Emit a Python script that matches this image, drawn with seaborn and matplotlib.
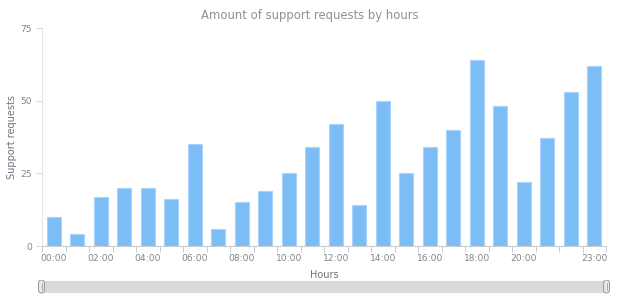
import matplotlib
matplotlib.use("Agg")
import matplotlib.pyplot as plt
import seaborn as sns
import numpy as np
import pandas as pd
from matplotlib.patches import FancyBboxPatch, Rectangle

hours = [f"{h:02d}:00" for h in range(24)]
requests = [10, 4, 17, 20, 20, 16, 35, 6, 15, 19, 25, 34, 42, 14, 50, 25, 34, 40, 64, 48, 22, 37, 53, 62]
tick_labels = ["00:00", "", "02:00", "", "04:00", "", "06:00", "", "08:00", "", "10:00", "",
               "12:00", "", "14:00", "", "16:00", "", "18:00", "", "20:00", "", "", "23:00"]
y_ticks = [0, 25, 50, 75]

sns.set_style("white")
plt.rcParams['font.family'] = ['DejaVu Sans']

text_col = "#7c868e"
df = pd.DataFrame({"hour": hours, "requests": requests})

fig = plt.figure(figsize=(6.2, 3.0), dpi=100)
ax = fig.add_axes([42/620, 1-246/300, (606-42)/620, (246-28)/300])
sns.barplot(data=df, x="hour", y="requests", color="#7dbdf6", width=0.6,
            edgecolor="#a9d3fa", linewidth=0.8, saturation=1, ax=ax)

ax.set_xlim(-0.5, 23.5)
ax.set_ylim(0, 75)
ax.set_yticks(y_ticks)
ax.set_yticklabels([str(v) for v in y_ticks])
ax.set_xticks(range(24))
ax.set_xticklabels(tick_labels)
ax.set_xticks(np.arange(-0.5, 24, 1), minor=True)
ax.tick_params(axis="x", which="major", bottom=False, length=0, pad=6, labelsize=6.6, labelcolor=text_col)
ax.tick_params(axis="x", which="minor", bottom=True, length=4, width=0.7, color="#c8cdd1", direction="out")
ax.tick_params(axis="y", left=True, length=4, width=0.7, color="#d5d9dc", labelsize=6.6, labelcolor=text_col, pad=3)
for s in ["top", "right"]:
    ax.spines[s].set_visible(False)
ax.spines["left"].set_color("#e3e6e8")
ax.spines["left"].set_linewidth(0.8)
ax.spines["bottom"].set_color("#c8cdd1")
ax.spines["bottom"].set_linewidth(0.8)

ax.set_xlabel("Hours", fontsize=7, color="#6b757d")
ax.xaxis.set_label_coords(0.5, -0.112)
ax.set_ylabel("Support requests", fontsize=7, color="#6b757d")
ax.yaxis.set_label_coords(-0.045, 0.5)
fig.text(0.5, 1-15/300, "Amount of support requests by hours", ha="center", va="center",
         fontsize=8.4, color="#8a939a")

# scroller
sax = fig.add_axes([38/620, 1-294/300, (610-38)/620, 14/300])
sax.set_xlim(0, 572)
sax.set_ylim(0, 14)
sax.axis("off")
sax.add_patch(Rectangle((3.5, 2), 565, 11, facecolor="#dadada", edgecolor="#d3d3d3", lw=0.6))
for xh in [3.5, 568.5]:
    sax.add_patch(FancyBboxPatch((xh-3, 1), 6, 13, boxstyle="round,pad=0,rounding_size=3",
                                 facecolor="#e8e8e8", edgecolor="#a0a0a0", lw=0.8))
    sax.plot([xh, xh], [4, 11], color="#a0a0a0", lw=0.6)

fig.savefig("out.png", dpi=100)
